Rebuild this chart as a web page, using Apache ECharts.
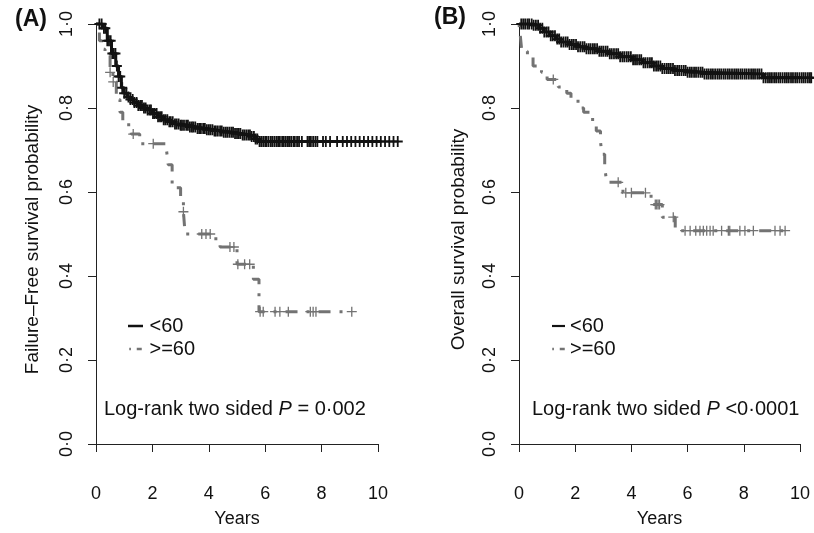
<!DOCTYPE html>
<html>
<head>
<meta charset="utf-8">
<script src="https://cdn.jsdelivr.net/npm/echarts@6/dist/echarts.min.js"></script>
<style>html,body{margin:0;padding:0;background:#fff;}#c{width:814px;height:533px;}</style>
</head>
<body>
<div id="c"></div>
<script>
// ---------- DATA ----------
// Panel A: failure-free survival, Kaplan-Meier steps (time in years, survival)
var ffsYoungTime = [0,0.25,0.4,0.55,0.7,0.8,0.9,1.0,1.1,1.2,1.35,1.5,1.65,1.8,2.0,2.2,2.4,2.6,2.8,3.0,3.3,3.6,3.9,4.2,4.5,4.9,5.2,5.5,5.65,5.75,10.7];
var ffsYoungSurv = [1.0,0.99,0.96,0.93,0.90,0.875,0.848,0.835,0.826,0.82,0.813,0.806,0.8,0.795,0.787,0.779,0.772,0.767,0.762,0.759,0.755,0.751,0.748,0.745,0.742,0.739,0.736,0.732,0.726,0.72,0.72];
var ffsOldTime = [0,0.12,0.2,0.32,0.5,0.6,0.72,0.85,0.95,1.25,1.55,2.5,2.56,2.7,3.0,3.1,3.16,4.25,4.4,5.0,5.58,5.78,9.07];
var ffsOldSurv = [1.0,0.96,0.94,0.925,0.885,0.862,0.82,0.79,0.76,0.738,0.715,0.7,0.665,0.61,0.578,0.553,0.5,0.482,0.469,0.428,0.392,0.315,0.315];
var ffsYoungCensor = [0.12,0.2,0.28,0.33,0.4,0.46,0.52,0.58,0.63,0.69,0.74,0.8,0.86,0.93,1.0,1.08,1.15,1.22,1.3,1.36,1.44,1.5,1.57,1.63,1.7,1.76,1.83,1.9,1.95,2.02,2.08,2.15,2.2,2.27,2.33,2.4,2.46,2.53,2.6,2.65,2.72,2.8,2.86,2.93,3.0,3.05,3.12,3.2,3.26,3.33,3.4,3.45,3.52,3.6,3.66,3.72,3.8,3.86,3.93,4.0,4.06,4.13,4.2,4.25,4.32,4.4,4.46,4.53,4.6,4.66,4.73,4.8,4.86,4.93,5.0,5.06,5.12,5.2,5.26,5.33,5.4,5.46,5.52,5.6,5.66,5.72,5.8,5.86,5.93,6.0,6.05,6.12,6.2,6.26,6.33,6.4,6.46,6.52,6.6,6.66,6.73,6.8,6.85,6.92,7.0,7.05,7.13,7.2,7.3,7.5,7.56,7.62,7.7,7.78,7.85,8.05,8.15,8.3,8.55,8.75,8.9,9.05,9.2,9.35,9.5,9.65,9.8,9.95,10.1,10.25,10.4,10.55,10.7];
var ffsOldCensor = [0.5,0.61,1.32,2.03,3.1,3.75,3.9,4.05,4.75,4.89,5.03,5.27,5.45,5.82,5.93,6.35,6.52,6.82,7.6,7.7,7.8,9.07];

// Panel B: overall survival
var osYoungTime = [0,0.5,0.7,0.9,1.1,1.3,1.5,1.8,2.1,2.4,2.8,3.2,3.6,4.0,4.4,4.8,5.1,5.5,6.0,6.6,8.7,10.4];
var osYoungSurv = [1.0,0.997,0.99,0.981,0.972,0.964,0.957,0.951,0.946,0.941,0.935,0.929,0.922,0.915,0.908,0.9,0.894,0.889,0.885,0.881,0.872,0.872];
var osOldTime = [0,0.05,0.1,0.3,0.5,0.8,1.0,1.4,1.7,1.85,2.1,2.3,2.62,2.75,2.9,2.95,3.05,3.12,3.7,4.7,5.1,5.56,9.5];
var osOldSurv = [1.0,0.97,0.935,0.92,0.9,0.885,0.868,0.85,0.835,0.82,0.8,0.79,0.765,0.745,0.72,0.69,0.66,0.623,0.598,0.57,0.54,0.508,0.508];
var osYoungCensor = [0.08,0.15,0.22,0.3,0.36,0.45,0.52,0.6,0.68,0.75,0.83,0.9,0.98,1.05,1.13,1.2,1.28,1.36,1.43,1.5,1.58,1.66,1.73,1.8,1.88,1.95,2.03,2.1,2.18,2.26,2.33,2.4,2.48,2.55,2.63,2.7,2.78,2.86,2.93,3.0,3.08,3.15,3.23,3.3,3.38,3.46,3.53,3.6,3.68,3.75,3.83,3.9,3.98,4.06,4.13,4.2,4.28,4.35,4.43,4.5,4.58,4.66,4.73,4.8,4.88,4.95,5.03,5.1,5.18,5.26,5.33,5.4,5.48,5.55,5.63,5.7,5.78,5.86,5.93,6.0,6.08,6.15,6.23,6.3,6.38,6.46,6.53,6.6,6.68,6.75,6.83,6.9,6.98,7.06,7.13,7.2,7.28,7.35,7.43,7.5,7.58,7.66,7.73,7.8,7.88,7.95,8.03,8.1,8.18,8.26,8.33,8.4,8.48,8.55,8.63,8.7,8.78,8.86,8.93,9.0,9.08,9.15,9.23,9.3,9.38,9.46,9.53,9.6,9.68,9.75,9.83,9.9,9.98,10.06,10.13,10.2,10.28,10.35,10.4];
var osOldCensor = [1.22,3.53,3.8,4.0,4.5,4.85,4.9,4.95,5.0,5.49,5.91,6.09,6.29,6.44,6.56,6.68,6.8,6.91,7.21,7.45,7.5,7.86,8.04,8.34,9.11,9.29,9.47];

var groupNames = ['<60', '>=60'];
var xTicks = [0, 2, 4, 6, 8, 10];
var yTicks = [0, 0.2, 0.4, 0.6, 0.8, 1.0];
var panelLetters = ['(A)', '(B)'];
var yTitles = ['Failure\u2013Free survival probability', 'Overall survival probability'];
var xTitle = 'Years';
var pValueTexts = ['= 0\u00b7002', '<0\u00b70001'];

// ---------- HELPERS ----------
function pairs(t, s) { return t.map(function (v, i) { return [v, s[i]]; }); }
function censorPoints(ct, t, s) {
  return ct.map(function (c) {
    var v = s[0];
    for (var i = 0; i < t.length; i++) { if (t[i] <= c) v = s[i]; }
    return [c, v];
  });
}

var FONT = '"Liberation Sans", Arial, Helvetica, sans-serif';
var BLACK = '#121212';
var GRAY = '#737373';
var PLUS_GRAY = 'path://M4.35,0H5.65V10H4.35ZM0,4.35H10V5.65H0Z';
var PLUS_BLACK = 'path://M4.1,0H5.9V10H4.1ZM0,4.1H10V5.9H0Z';
var ICON_SOLID = 'path://M0,0H18V3H0Z';
var ICON_DOTDASH = 'path://M1,0H3V3H1ZM10,0H16V3H10Z';
var DOTDASH = [3, 9, 12, 9];

var grids = [
  { left: 96, top: 24, width: 282, height: 421 },
  { left: 519, top: 24, width: 281, height: 421 }
];

function xAxisFor(i) {
  return {
    gridIndex: i, type: 'value', min: xTicks[0], max: xTicks[xTicks.length - 1], interval: 2,
    offset: 27,
    axisLine: { show: true, lineStyle: { color: '#222', width: 1 } },
    axisTick: { show: true, length: 8, lineStyle: { color: '#222' } },
    axisLabel: { fontSize: 18, color: '#111', margin: 14, fontFamily: FONT },
    splitLine: { show: false },
    name: xTitle, nameLocation: 'middle', nameGap: 39,
    nameTextStyle: { fontSize: 18, color: '#111', fontFamily: FONT }
  };
}
function yAxisFor(i, gap) {
  return {
    gridIndex: i, type: 'value', min: yTicks[0], max: yTicks[yTicks.length - 1], interval: 0.2,
    axisLine: { show: true, lineStyle: { color: '#222', width: 1 } },
    axisTick: { show: true, length: 8, lineStyle: { color: '#222' } },
    axisLabel: {
      fontSize: 18, color: '#111', margin: 20, rotate: 90, fontFamily: FONT,
      formatter: function (v) { return v.toFixed(1).replace('.', '\u00b7'); }
    },
    splitLine: { show: false },
    name: yTitles[i], nameLocation: 'middle', nameGap: gap,
    nameTextStyle: { fontSize: 19, color: '#111', fontFamily: FONT, padding: [0, 11, 0, 0] }
  };
}

function curve(name, i, t, s, color, dashed) {
  return {
    name: name, type: 'line', xAxisIndex: i, yAxisIndex: i,
    data: pairs(t, s), step: 'end', showSymbol: false, symbol: 'none',
    clip: false, color: color,
    lineStyle: { color: color, width: 3, type: dashed ? DOTDASH : 'solid', cap: 'butt' },
    emphasis: { disabled: true }, silent: true, z: dashed ? 2 : 3
  };
}
function marks(name, i, ct, t, s, color) {
  var black = color === BLACK;
  return {
    name: name, type: 'scatter', xAxisIndex: i, yAxisIndex: i,
    data: censorPoints(ct, t, s), symbol: black ? PLUS_BLACK : PLUS_GRAY,
    symbolSize: black ? [10, 11] : 10, clip: false,
    itemStyle: { color: color, opacity: 1 }, emphasis: { disabled: true }, silent: true,
    z: black ? 4 : 3
  };
}

function legendFor(left, w) {
  return {
    left: left, top: 316, orient: 'vertical', itemWidth: w, itemHeight: 2.5, itemGap: 3,
    padding: 0, selectedMode: false,
    textStyle: { fontSize: 20, color: '#111', lineHeight: 20, fontFamily: FONT, fontWeight: 'normal' },
    data: [{ name: groupNames[0], icon: ICON_SOLID }, { name: groupNames[1], icon: ICON_DOTDASH }]
  };
}

function pText(i) {
  return '{n|Log-rank two sided }{i|P}{n| ' + pValueTexts[i] + '}';
}
var richStyle = {
  n: { fontSize: 20, color: '#111', fontFamily: FONT, fontWeight: 'normal' },
  i: { fontSize: 20, color: '#111', fontStyle: 'italic', fontFamily: FONT, fontWeight: 'normal' }
};

var option = {
  animation: false,
  backgroundColor: '#fff',
  textStyle: { fontFamily: FONT },
  title: [
    { text: panelLetters[0], left: 15, top: 8, padding: 0, textStyle: { fontSize: 23, fontWeight: 'bold', color: '#111', fontFamily: FONT } },
    { text: panelLetters[1], left: 434, top: 6, padding: 0, textStyle: { fontSize: 23, fontWeight: 'bold', color: '#111', fontFamily: FONT } },
    { text: pText(0), left: 104, top: 399, padding: 0, textStyle: { fontWeight: 'normal', fontSize: 20, rich: richStyle } },
    { text: pText(1), left: 532, top: 399, padding: 0, textStyle: { fontWeight: 'normal', fontSize: 20, rich: richStyle } }
  ],
  grid: grids,
  xAxis: [xAxisFor(0), xAxisFor(1)],
  yAxis: [yAxisFor(0, 54), yAxisFor(1, 51)],
  legend: [legendFor(128, 18), legendFor(552, 13)],
  series: [
    curve(groupNames[1], 0, ffsOldTime, ffsOldSurv, GRAY, true),
    marks('A >=60 censored', 0, ffsOldCensor, ffsOldTime, ffsOldSurv, GRAY),
    curve(groupNames[0], 0, ffsYoungTime, ffsYoungSurv, BLACK, false),
    marks('A <60 censored', 0, ffsYoungCensor, ffsYoungTime, ffsYoungSurv, BLACK),
    curve(groupNames[1], 1, osOldTime, osOldSurv, GRAY, true),
    marks('B >=60 censored', 1, osOldCensor, osOldTime, osOldSurv, GRAY),
    curve(groupNames[0], 1, osYoungTime, osYoungSurv, BLACK, false),
    marks('B <60 censored', 1, osYoungCensor, osYoungTime, osYoungSurv, BLACK)
  ]
};

var chart = echarts.init(document.getElementById('c'), null, { renderer: 'canvas' });
chart.setOption(option);
</script>
</body>
</html>
